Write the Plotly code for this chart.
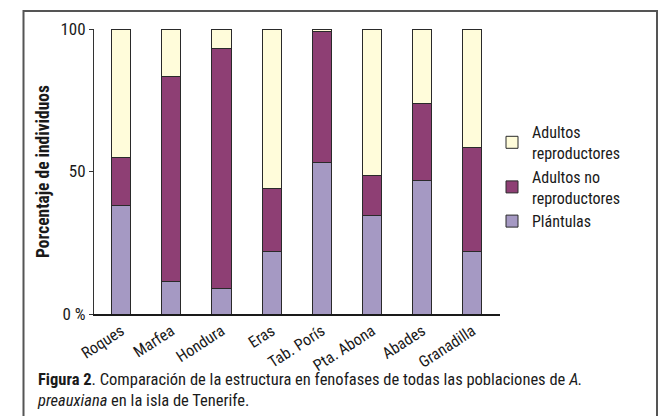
import plotly.graph_objects as go

categories = ["Roques", "Marfea", "Hondura", "Eras", "Tab. Porís", "Pta. Abona", "Abades", "Granadilla"]
plantulas = [38, 11.5, 9, 22, 53, 34.5, 47, 22]
adultos_no_repro = [17, 72, 84, 22, 46, 14, 27, 36.5]
adultos_repro = [45, 16.5, 7, 56, 1, 51.5, 26, 41.5]
y_ticks = [0, 50, 100]
y_tick_labels = ["0 %", "50", "100"]

FONT = "Roboto Condensed, Liberation Sans Narrow, Roboto, sans-serif"
OUTLINE = dict(color="#2a2a2a", width=1)

x_idx = list(range(len(categories)))

fig = go.Figure()
fig.add_trace(go.Bar(x=x_idx, y=plantulas, name="Plántulas",
                     marker=dict(color="#A599C3", line=OUTLINE), width=0.38))
fig.add_trace(go.Bar(x=x_idx, y=adultos_no_repro, name="Adultos no<br>reproductores",
                     marker=dict(color="#8E3F74", line=OUTLINE), width=0.38))
fig.add_trace(go.Bar(x=x_idx, y=adultos_repro, name="Adultos<br>reproductores",
                     marker=dict(color="#FFFCDA", line=OUTLINE), width=0.38))

L, R, T, B = 94, 171, 29, 102
W, H = 671, 416
pw = W - L - R
ph = H - T - B

def px_x(p):
    return (p - L) / pw

def px_y(p):
    return (H - B - p) / ph

fig.update_layout(
    width=W, height=H,
    margin=dict(l=L, r=R, t=T, b=B, pad=0),
    barmode="stack",
    plot_bgcolor="white", paper_bgcolor="white",
    font=dict(family=FONT, size=16, color="#1a1a1a"),
    showlegend=True,
    legend=dict(x=px_x(492), xanchor="left", y=px_y(115), yanchor="top",
                traceorder="reversed", font=dict(size=16),
                bgcolor="rgba(0,0,0,0)", itemwidth=30, tracegroupgap=0),
    xaxis=dict(range=[-0.54, 7.55], tickmode="array", tickvals=x_idx, ticktext=categories,
               tickangle=-33, showline=True, linecolor="#1a1a1a", linewidth=1.5,
               ticks="", showgrid=False, zeroline=False, fixedrange=True,
               tickfont=dict(size=16)),
    yaxis=dict(range=[0, 100], tickmode="array", tickvals=y_ticks, ticktext=y_tick_labels,
               showline=True, linecolor="#333333", linewidth=1, ticks="outside",
               ticklen=4, tickcolor="#333333", showgrid=False, zeroline=False,
               fixedrange=True, tickfont=dict(size=17)),
    shapes=[dict(type="rect", xref="paper", yref="paper",
                 x0=px_x(23.5), x1=px_x(657), y0=px_y(11), y1=px_y(430),
                 line=dict(color="#555555", width=2), fillcolor="rgba(0,0,0,0)", layer="below")],
    annotations=[
        dict(text="<b>Porcentaje de individuos</b>", textangle=-90,
             xref="paper", yref="paper", x=px_x(43), y=px_y(171),
             xanchor="center", yanchor="middle", showarrow=False, font=dict(size=17.5)),
        dict(text="<b>Figura 2</b>. Comparación de la estructura en fenofases de todas las poblaciones de <i>A.</i><br><i>preauxiana</i> en la isla de Tenerife.",
             xref="paper", yref="paper", x=px_x(35), y=px_y(368), align="left",
             xanchor="left", yanchor="top", showarrow=False, font=dict(size=16.5)),
    ],
)

fig.write_html("out.html", config={"displayModeBar": False},
               post_script="document.body.style.margin='0';document.body.style.overflow='hidden';")
